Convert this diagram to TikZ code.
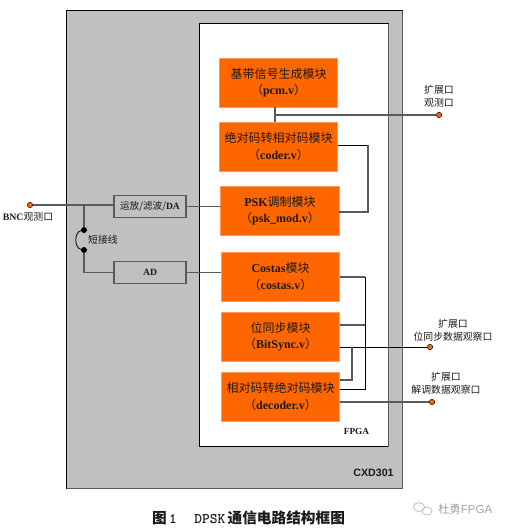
\documentclass[tikz,border=0pt]{standalone}
\usepackage{fontspec}
\setmainfont{Liberation Serif}
\setsansfont{Liberation Sans}
\newfontfamily\cjk{Noto Sans CJK SC}
\newcommand{\zh}[1]{{\cjk #1}}
\definecolor{panel}{HTML}{C0C0C0}
\definecolor{mod}{HTML}{FF6600}
\definecolor{modedge}{HTML}{FF9A5C}
\definecolor{wire}{HTML}{5A5A5A}
\definecolor{ink}{HTML}{1A1A1A}
\tikzset{
 x=0.75pt,y=-0.75pt,
 every node/.style={inner sep=0pt,outer sep=0pt,text=ink},
 modbox/.style={draw=modedge,line width=0.6pt,fill=mod,minimum width=89pt,minimum height=36.75pt,align=center,font=\fontsize{9pt}{12.2pt}\selectfont},
 ifbox/.style={draw=wire,line width=0.9pt,fill=panel,minimum width=54pt,minimum height=17pt,align=center,font=\fontsize{7.2pt}{9pt}\selectfont},
 wirea/.style={draw=wire,line width=1pt},
 wireb/.style={draw=black,line width=0.7pt},
 port/.style={circle,draw=black,line width=0.4pt,fill=mod,minimum size=4pt},
 jdot/.style={circle,fill=black,minimum size=4.5pt},
 lbl/.style={align=center,font=\fontsize{7.4pt}{10pt}\selectfont},
}
\begin{document}
\begin{tikzpicture}
\useasboundingbox (0,0) rectangle (508,531);
\fill[white] (0,0) rectangle (508,531);
% panels
\draw[black,line width=0.7pt,fill=panel] (66,10) rectangle (402,488);
\draw[wire,line width=1pt] (402.6,11) -- (402.6,488.6) -- (67,488.6);
\draw[black,line width=0.6pt,fill=white] (199,23) rectangle (388,446);
\draw[wire,line width=1pt] (388.5,24) -- (388.5,446.5);
\node[font=\bfseries\fontsize{7pt}{8pt}\selectfont] (fpga) at (356.5,431) {FPGA};
\node[font=\sffamily\bfseries\fontsize{8pt}{9pt}\selectfont] (cxd) at (373.5,473) {CXD301};
% modules
\node[modbox] (pcm) at (278.5,82.5) {\zh{基带信号生成模块}\\\zh{（}\textbf{pcm.v}\zh{）}};
\node[modbox] (coder) at (278.5,146.5) {\zh{绝对码转相对码模块}\\\zh{（}\textbf{coder.v}\zh{）}};
\node[modbox] (psk) at (280,210.5) {\textbf{PSK}\zh{调制模块}\\\zh{（}\textbf{psk\_mod.v}\zh{）}};
\node[modbox] (costas) at (280.5,276.5) {\textbf{Costas}\zh{模块}\\\zh{（}\textbf{costas.v}\zh{）}};
\node[modbox] (bitsync) at (280.5,336.5) {\zh{位同步模块}\\\zh{（}\textbf{BitSync.v}\zh{）}};
\node[modbox] (decoder) at (280.5,396.5) {\zh{相对码转绝对码模块}\\\zh{（}\textbf{decoder.v}\zh{）}};
\node[ifbox] (da) at (150,206.5) {\zh{运放/滤波/}\textbf{DA}};
\node[ifbox] (ad) at (150,272.5) {\textbf{AD}};
% free ends and ports
\node[port] (bnc) at (30,205) {};
\node[port] (p1) at (439,115) {};
\node[port] (p2) at (430,347) {};
\node[port] (p3) at (432,402) {};
\node[jdot] (j1) at (84,230) {};
\node[jdot] (j2) at (84,250) {};
\coordinate (t1) at (84,205);
\coordinate (t2) at (275,115);
\coordinate (t3) at (352,347);
% connectors
\draw[wirea] (bnc) -- (da.west |- bnc);
\draw[wirea] (t1) -- (j1);
\draw[wirea] (j2) |- (ad.west);
\draw[black,line width=0.6pt] (j1) .. controls (74,232) and (74,248) .. (j2);
\draw[wirea] (da.east) -- (psk.west |- da.east);
\draw[wirea] (ad.east) -- (costas.west |- ad.east);
\draw[wirea] (pcm.south -| t2) -- (coder.north -| t2);
\draw[wirea] (t2) -- (p1);
\draw[wireb] (coder.east |- 0,145) -- (368,145);
\draw[wirea] (368,145) -- (368,212) -- (psk.east |- 0,212);
\draw[wirea] (costas.east |- 0,277) -- (365,277);
\draw[wirea] (bitsync.east |- 0,325) -- (365,325);
\draw[wireb] (365,277) -- (365,389) -- (decoder.east |- 0,389);
\draw[wireb] (bitsync.east |- p2) -- (p2);
\draw[wirea] (t3) -- (352,380) -- (decoder.east |- 0,380);
\draw[wirea] (decoder.east |- p3) -- (p3);
% labels
\node[lbl] (l0) at (28,217) {\textbf{BNC}\zh{观测口}};
\node[lbl] (l1) at (103,240) {\zh{短接线}};
\node[lbl] (l2) at (439,96) {\zh{扩展口}\\\zh{观测口}};
\node[lbl] (l3) at (453,330) {\zh{扩展口}\\\zh{位同步数据观察口}};
\node[lbl] (l4) at (446,383) {\zh{扩展口}\\\zh{解调数据观察口}};
\node[font=\fontsize{11pt}{13pt}\selectfont,anchor=west] (cap) at (152,518) {{\cjk\bfseries 图}\,\texttt{\bfseries 1}\hspace{1.2em}\texttt{\bfseries DPSK}\,{\cjk\bfseries 通信电路结构框图}};
% watermark
\draw[panel,line width=0.6pt] (419,507) ellipse (5.5 and 4.5);
\draw[panel,line width=0.6pt] (427,511) ellipse (5 and 4);
\node[font=\fontsize{8.6pt}{10pt}\selectfont,text=panel!85!black,anchor=west] (wm) at (438,509) {\zh{杜勇}\textsf{FPGA}};
\end{tikzpicture}
\end{document}
